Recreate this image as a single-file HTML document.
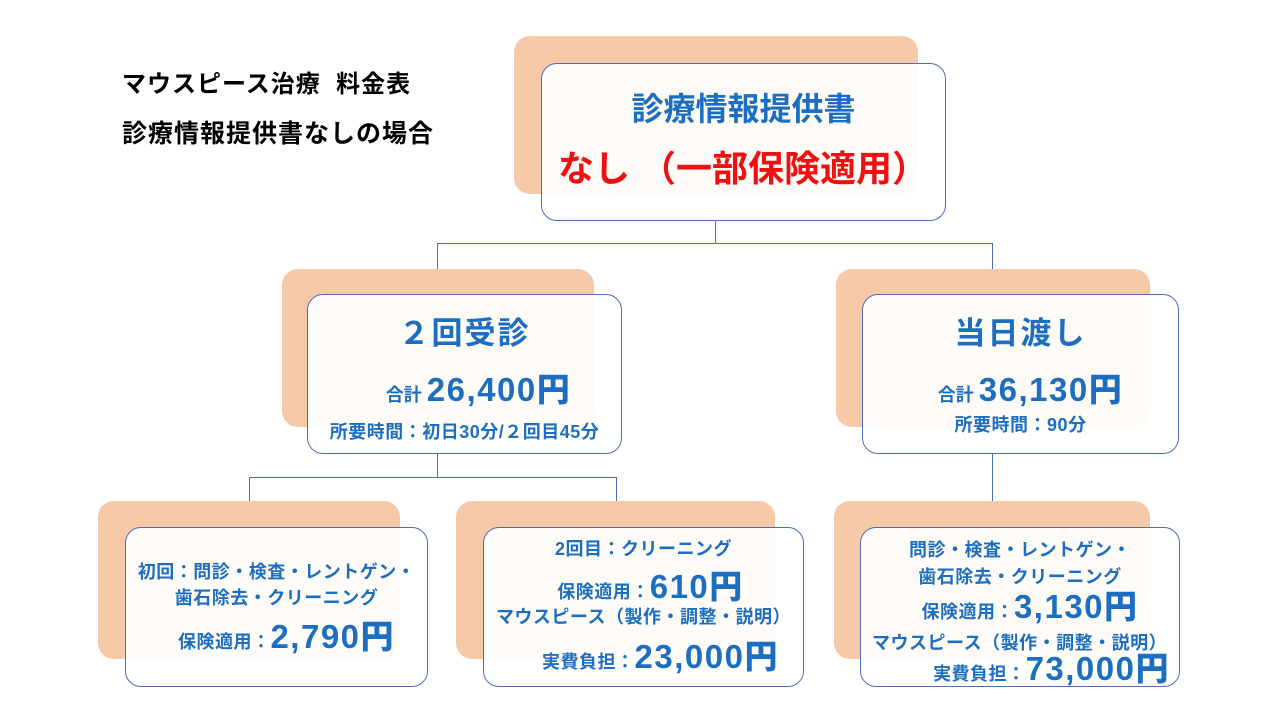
<!DOCTYPE html>
<html><head><meta charset="utf-8"><style>
body{margin:0;width:1280px;height:720px;background:#fff;position:relative;overflow:hidden;font-family:"Liberation Sans","Noto Sans CJK JP",sans-serif;}
.p{position:absolute;background:#f6c9a9;border-radius:16px;}
.w{position:absolute;background:rgba(255,255,255,0.93);border:1.3px solid #4b6fb7;border-radius:16px;box-sizing:border-box;}
.l{position:absolute;background:#4b6fb7;}
.t{position:absolute;white-space:nowrap;color:#1c6fc0;font-weight:bold;text-align:center;line-height:1;}
.n{font-size:33px;font-weight:900;letter-spacing:1.5px;}
.s{font-size:18px;letter-spacing:0.5px;}
</style></head><body>
<div class="t" style="left:122px;top:73px;font-size:24px;color:#000;text-align:left;letter-spacing:1px">マウスピース治療&nbsp; 料金表</div>
<div class="t" style="left:122px;top:122px;font-size:25px;color:#000;text-align:left;letter-spacing:1px">診療情報提供書なしの場合</div>

<div class="l" style="left:715px;top:221px;width:1px;height:22px"></div>
<div class="l" style="left:437px;top:243px;width:556px;height:1px"></div>
<div class="l" style="left:437px;top:243px;width:1px;height:51px"></div>
<div class="l" style="left:992px;top:243px;width:1px;height:51px"></div>
<div class="l" style="left:437px;top:454px;width:1px;height:23px"></div>
<div class="l" style="left:249px;top:477px;width:368px;height:1px"></div>
<div class="l" style="left:249px;top:477px;width:1px;height:50px"></div>
<div class="l" style="left:616px;top:477px;width:1px;height:50px"></div>
<div class="l" style="left:992px;top:454px;width:1px;height:73px"></div>

<div class="p" style="left:514px;top:36px;width:404px;height:158px"></div>
<div class="w" style="left:541px;top:63px;width:405px;height:158px"></div>
<div class="t" style="left:541px;width:405px;top:93px;font-size:32px">診療情報提供書</div>
<div class="t" style="left:558px;top:151px;font-size:36px;color:#ee1111;text-align:left">なし&nbsp;（一部保険適用）</div>

<div class="p" style="left:282px;top:269px;width:312px;height:158px"></div>
<div class="w" style="left:307px;top:294px;width:315px;height:160px"></div>
<div class="t" style="left:307px;width:315px;top:318px;font-size:31px;letter-spacing:2px">２回受診</div>
<div class="t" style="left:321px;width:315px;top:373px;font-size:18px">合計 <span class="n">26,400円</span></div>
<div class="t s" style="left:307px;width:315px;top:423px">所要時間：初日30分/２回目45分</div>

<div class="p" style="left:836px;top:269px;width:314px;height:158px"></div>
<div class="w" style="left:862px;top:294px;width:317px;height:160px"></div>
<div class="t" style="left:862px;width:317px;top:318px;font-size:31px;letter-spacing:2px">当日渡し</div>
<div class="t" style="left:872px;width:317px;top:373px;font-size:18px">合計 <span class="n">36,130円</span></div>
<div class="t s" style="left:862px;width:317px;top:416px">所要時間：90分</div>

<div class="p" style="left:98px;top:501px;width:302px;height:158px"></div>
<div class="w" style="left:125px;top:527px;width:303px;height:160px"></div>
<div class="t s" style="left:125px;width:303px;top:563px">初回：問診・検査・レントゲン・</div>
<div class="t s" style="left:125px;width:303px;top:589px">歯石除去・クリーニング</div>
<div class="t s" style="left:135px;width:303px;top:620px">保険適用：<span class="n">2,790円</span></div>

<div class="p" style="left:456px;top:501px;width:319px;height:158px"></div>
<div class="w" style="left:483px;top:527px;width:321px;height:160px"></div>
<div class="t s" style="left:483px;width:321px;top:540px">2回目：クリーニング</div>
<div class="t s" style="left:490px;width:321px;top:570px">保険適用：<span class="n">610円</span></div>
<div class="t s" style="left:483px;width:321px;top:608px">マウスピース（製作・調整・説明）</div>
<div class="t s" style="left:500px;width:321px;top:640px">実費負担：<span class="n">23,000円</span></div>

<div class="p" style="left:834px;top:501px;width:316px;height:158px"></div>
<div class="w" style="left:860px;top:527px;width:320px;height:160px"></div>
<div class="t s" style="left:860px;width:320px;top:541px">問診・検査・レントゲン・</div>
<div class="t s" style="left:860px;width:320px;top:568px">歯石除去・クリーニング</div>
<div class="t s" style="left:870px;width:320px;top:590px">保険適用：<span class="n">3,130円</span></div>
<div class="t s" style="left:872px;top:634px;text-align:left">マウスピース（製作・調整・説明）</div>
<div class="t s" style="left:860px;width:310px;top:652px;text-align:right">実費負担：<span class="n">73,000円</span></div>
</body></html>
